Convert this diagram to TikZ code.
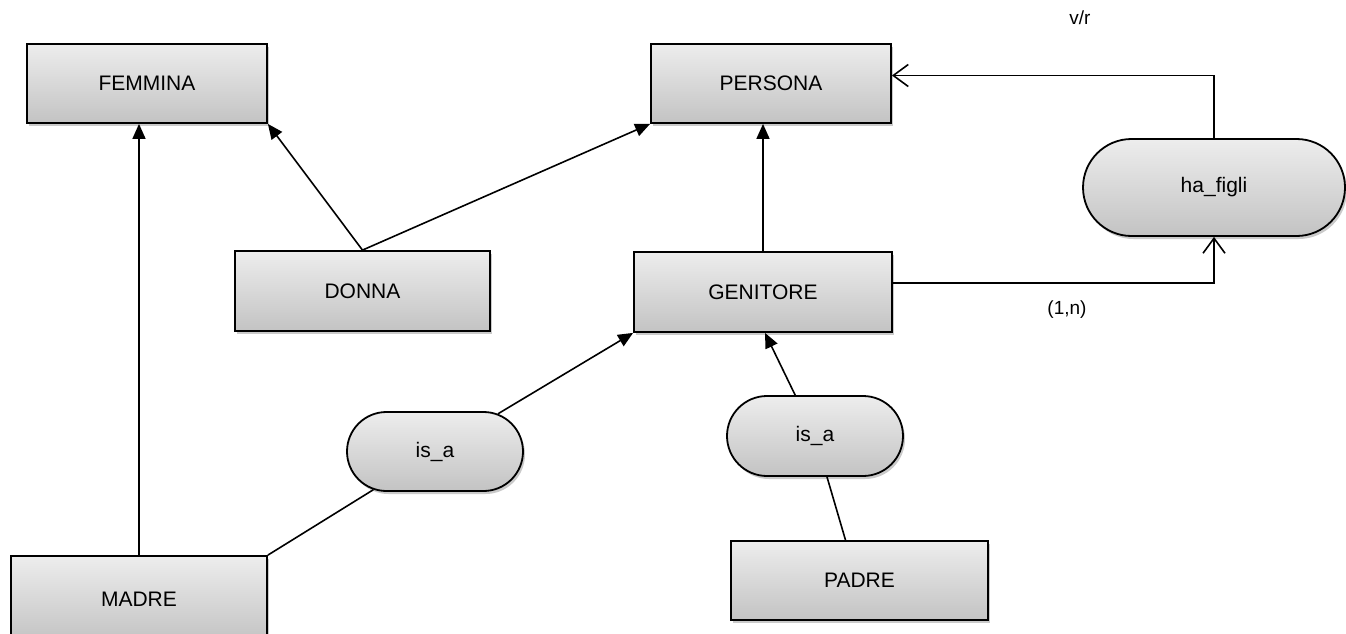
\documentclass[tikz,border=0pt]{standalone}
\usepackage{fontspec}
\setmainfont{Liberation Sans}
\usetikzlibrary{shadows,arrows.meta,shapes.misc,calc}
\definecolor{topgray}{HTML}{EDEDED}
\definecolor{botgray}{HTML}{C3C3C3}
\begin{document}
\begin{tikzpicture}[x=1pt,y=-1pt,
  every node/.style={font=\fontsize{21}{25}\selectfont},
  ent/.style={draw, line width=1.8pt, top color=topgray, bottom color=botgray,
    drop shadow={shadow xshift=2pt, shadow yshift=-3pt, opacity=0.35, fill=black!60},
    inner sep=0pt},
  rel/.style={ent, rounded rectangle},
  con/.style={line width=1.6pt},
  farr/.style={con, -{Triangle[length=15pt,width=13pt]}},
  oarr/.style={con, -{Straight Barb[length=15pt,width=22pt,line width=1.6pt]}}]
\useasboundingbox (0,0) rectangle (1346,634);
\node[ent, minimum width=240pt, minimum height=79pt] (fem) at (147,83.5) {FEMMINA};
\node[ent, minimum width=240pt, minimum height=79pt] (per) at (771,83.5) {PERSONA};
\node[rel, minimum width=262pt, minimum height=97pt] (ha) at (1214,187.5) {ha\_figli};
\node[ent, minimum width=258pt, minimum height=80pt] (gen) at (763,292) {GENITORE};
\node[ent, minimum width=255pt, minimum height=80pt] (don) at (362.5,291) {DONNA};
\node[rel, minimum width=176pt, minimum height=79pt] (isl) at (435,451.5) {is\_a};
\node[rel, minimum width=176pt, minimum height=80pt] (isr) at (815,436) {is\_a};
\node[ent, minimum width=256pt, minimum height=86pt] (mad) at (139,599) {MADRE};
\node[ent, minimum width=257pt, minimum height=79pt] (pad) at (859.5,580.5) {PADRE};
\node[font=\fontsize{19}{22}\selectfont] (vr) at (1080,18) {v/r};
\node[font=\fontsize{19}{22}\selectfont] (card) at (1067,310) {(1,n)};
\draw[farr] (mad.north) -- (mad.north |- fem.south);
\draw[farr] (don.north) -- (fem.south east);
\draw[farr] (don.north) -- (per.south west);
\draw[farr] (gen.north) -- (gen.north |- per.south);
\coordinate (gout) at ($(gen.east)+(0,-9)$);
\draw[oarr] (gout) -| (ha.south);
\coordinate (pin) at ($(per.east)+(0,-8)$);
\draw[oarr] (ha.north) |- (pin);
\draw[con] (mad.north east) -- (isl);
\draw[farr] (isl) -- (gen.south west);
\coordinate (pt) at ($(pad.north)+(-14,0)$);
\coordinate (gb) at ($(gen.south)+(2,0)$);
\draw[con] (pt) -- (isr);
\draw[farr] (isr) -- (gb);
\end{tikzpicture}
\end{document}
